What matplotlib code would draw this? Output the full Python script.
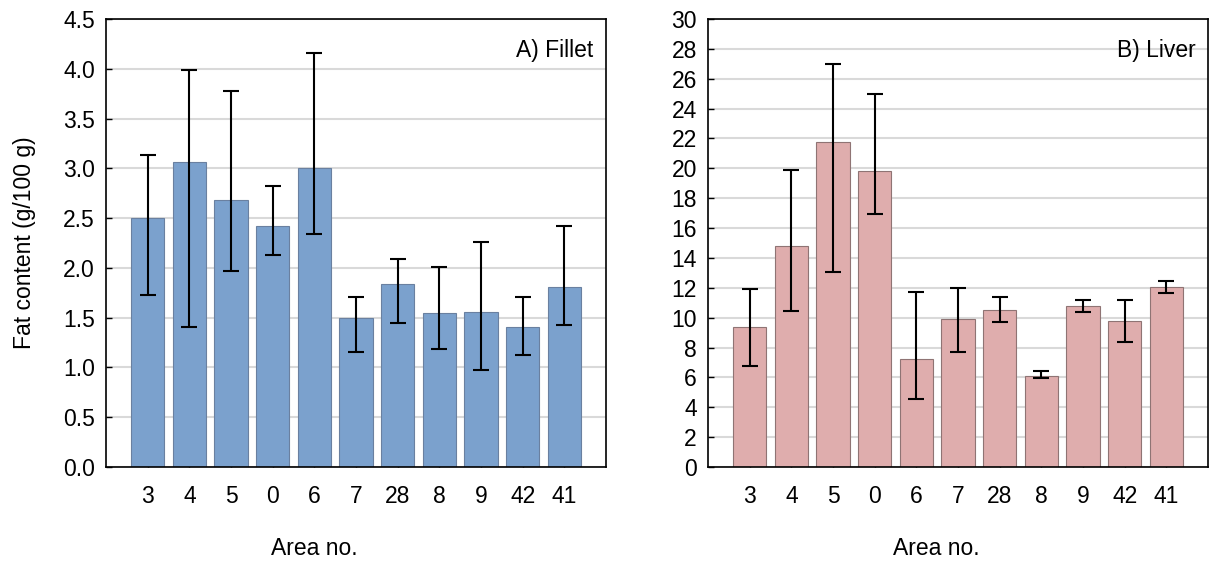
import matplotlib
matplotlib.use("Agg")
import matplotlib.pyplot as plt
import numpy as np

plt.rcParams['font.family'] = ['Liberation Sans', 'DejaVu Sans']

areas = ['3', '4', '5', '0', '6', '7', '28', '8', '9', '42', '41']

fillet_mean = [2.50, 3.06, 2.68, 2.42, 3.00, 1.50, 1.84, 1.55, 1.56, 1.41, 1.81]
fillet_upper = [3.13, 3.99, 3.78, 2.82, 4.16, 1.71, 2.09, 2.01, 2.26, 1.71, 2.42]
fillet_lower = [1.73, 1.41, 1.97, 2.13, 2.34, 1.16, 1.45, 1.19, 0.97, 1.13, 1.43]

liver_mean = [9.40, 14.83, 21.73, 19.79, 7.24, 9.90, 10.54, 6.12, 10.79, 9.81, 12.08]
liver_upper = [11.93, 19.90, 26.98, 24.97, 11.73, 12.00, 11.39, 6.41, 11.19, 11.21, 12.44]
liver_lower = [6.75, 10.45, 13.04, 16.91, 4.56, 7.73, 9.74, 5.94, 10.36, 8.38, 11.66]

W, H = 1209, 567
fig = plt.figure(figsize=(W / 100, H / 100), dpi=100)

ax1 = fig.add_axes([106 / W, (H - 467) / H, 500 / W, 448 / H])
ax2 = fig.add_axes([708 / W, (H - 467) / H, 500 / W, 448 / H])

FS = 16.5


def draw(ax, mean, upper, lower, color, edge, ymax, ystep, fmt, label, xlab_x):
    x = np.arange(len(areas))
    mean = np.array(mean)
    yerr = np.vstack([mean - np.array(lower), np.array(upper) - mean])
    ax.set_axisbelow(True)
    ax.bar(x, mean, width=0.8, color=color, edgecolor=edge, linewidth=0.8, zorder=2)
    ax.errorbar(x, mean, yerr=yerr, fmt='none', ecolor='black', elinewidth=1.5,
                capsize=6, capthick=1.5, zorder=3)
    ax.set_xlim(-1, 11)
    ax.set_ylim(0, ymax)
    ax.set_xticks(x)
    ax.set_xticklabels(areas)
    ticks = np.arange(0, ymax + ystep / 2, ystep)
    ax.set_yticks(ticks)
    ax.set_yticklabels([fmt.format(t) for t in ticks])
    ax.grid(axis='y', color='#d9d9d9', linewidth=1.5, zorder=0)
    ax.tick_params(axis='both', direction='in', length=4, width=1, labelsize=FS, color='black')
    ax.tick_params(axis='x', pad=13)
    ax.tick_params(axis='y', pad=8)
    for s in ax.spines.values():
        s.set_linewidth(1.2)
        s.set_color('black')
    ax.text(0.975, 0.955, label, transform=ax.transAxes, ha='right', va='top', fontsize=FS)
    ax.set_xlabel('Area no.', fontsize=FS)
    ax.xaxis.set_label_coords(xlab_x, -0.181)
    ax.xaxis.label.set_va('center')


draw(ax1, fillet_mean, fillet_upper, fillet_lower, '#7ba1cd', '#6a80a0', 4.5, 0.5,
     '{:.1f}', 'A) Fillet', 0.416)
draw(ax2, liver_mean, liver_upper, liver_lower, '#dfadad', '#8f7474', 30, 2,
     '{:.0f}', 'B) Liver', 0.456)

ax1.set_ylabel('Fat content (g/100 g)', fontsize=FS)
ax1.yaxis.set_label_coords(-0.162, 0.5)
ax1.yaxis.label.set_va('center')

fig.savefig('out.png', dpi=100)
